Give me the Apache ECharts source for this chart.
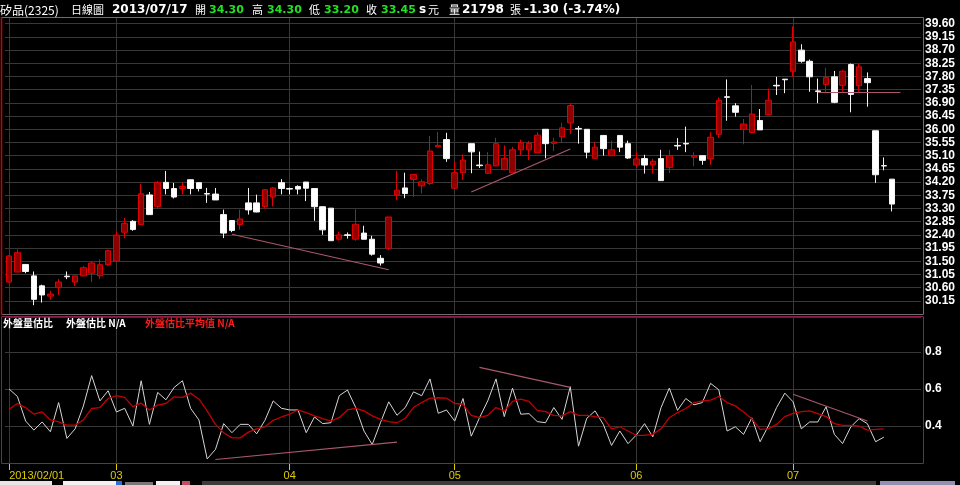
<!DOCTYPE html>
<html><head><meta charset="utf-8">
<script src="https://cdn.jsdelivr.net/npm/echarts@6/dist/echarts.min.js"></script>
<style>html,body{margin:0;padding:0;background:#000;}#c{width:960px;height:485px;}</style>
</head><body><div id="c"></div>
<script>
// trading days (MM/DD), 2013
const dates = [
'02/01','02/04','02/05','02/06','02/07','02/18','02/19','02/20','02/21','02/22','02/25','02/26','02/27',
'03/01','03/04','03/05','03/06','03/07','03/08','03/11','03/12','03/13','03/14','03/15','03/18','03/19','03/20','03/21','03/22','03/25','03/26','03/27','03/28','03/29',
'04/01','04/02','04/03','04/08','04/09','04/10','04/11','04/12','04/15','04/16','04/17','04/18','04/19','04/22','04/23','04/24','04/25','04/26','04/29','04/30',
'05/02','05/03','05/06','05/07','05/08','05/09','05/10','05/13','05/14','05/15','05/16','05/17','05/20','05/21','05/22','05/23','05/24','05/27','05/28','05/29','05/30','05/31',
'06/03','06/04','06/05','06/06','06/07','06/10','06/11','06/13','06/14','06/17','06/18','06/19','06/20','06/21','06/24','06/25','06/26','06/27','06/28',
'07/01','07/02','07/03','07/04','07/05','07/08','07/09','07/10','07/11','07/12','07/15','07/16','07/17'
];
const padSlots = [' ', '  ', '   '];

const opens = [
30.79,31.13,31.39,31.00,30.66,30.31,30.60,30.99,30.79,31.00,
31.09,31.00,31.38,31.50,32.49,32.86,32.75,33.76,33.37,34.19,
33.98,33.98,34.28,34.18,33.81,33.79,33.09,32.89,32.75,33.49,
33.49,33.37,33.69,34.18,33.98,34.05,34.20,33.98,33.36,33.31,
32.25,32.40,32.25,32.46,32.25,31.60,31.94,33.76,34.00,34.29,
34.07,34.15,35.40,35.65,33.99,34.52,35.51,34.78,34.50,34.75,
34.63,34.52,35.30,35.30,35.20,36.00,35.52,35.74,36.22,36.03,
36.00,35.01,35.79,35.10,35.79,35.51,34.78,35.00,34.79,35.00,
34.70,35.45,35.52,35.05,35.10,34.99,35.83,37.11,36.80,36.00,
35.89,36.30,36.49,37.50,37.71,37.98,38.70,38.32,37.31,37.53,
37.79,37.50,38.21,37.49,37.73,35.95,34.76,34.30];
const closes = [
31.68,31.79,31.15,30.20,30.35,30.38,30.79,30.97,31.00,31.28,
31.44,31.38,31.86,32.39,32.79,32.58,33.80,33.09,34.19,33.98,
33.69,34.05,33.98,33.98,33.79,33.59,32.46,32.55,32.94,33.25,
33.18,33.94,34.00,33.98,33.96,33.96,33.99,33.36,32.57,32.20,
32.40,32.38,32.76,32.25,31.74,31.44,33.01,33.92,33.81,34.46,
34.21,35.26,35.45,35.00,34.52,34.95,35.23,34.76,34.79,35.51,
35.00,35.30,35.54,35.52,35.80,35.51,35.57,36.05,36.81,36.01,
35.22,35.39,35.34,35.30,35.39,35.02,34.99,34.78,34.91,34.25,
35.10,35.43,35.50,35.10,34.94,35.73,36.99,37.09,36.58,36.18,
36.52,35.98,36.99,37.48,37.69,38.98,38.32,37.79,37.29,37.77,
36.92,37.98,37.19,38.13,37.59,34.45,34.75,33.45];
const lows = [
30.77,31.13,31.09,30.00,30.09,30.18,30.35,30.89,30.65,30.99,
30.79,30.89,31.34,31.48,32.28,32.54,32.74,33.08,33.29,33.78,
33.64,33.78,33.78,33.88,33.49,33.59,32.29,32.49,32.58,33.09,
33.17,33.29,33.37,33.78,33.78,33.78,33.55,32.88,32.40,32.20,
32.20,32.27,32.20,32.25,31.69,31.35,31.88,33.58,33.65,33.69,
33.81,34.10,35.40,34.89,33.99,34.27,34.50,34.68,34.50,34.75,
34.60,34.52,35.12,34.95,35.20,35.01,35.26,35.54,35.85,35.51,
35.01,35.01,35.10,35.10,35.22,34.99,34.68,34.49,34.49,34.25,
34.51,35.30,35.22,34.74,34.79,34.79,35.70,36.29,36.43,35.49,
35.89,35.98,36.49,37.17,37.23,37.79,38.27,37.28,36.89,37.28,
36.89,37.28,36.58,37.28,36.77,34.17,34.60,33.20];
const highs = [
31.70,31.90,31.39,31.15,30.70,30.49,30.89,31.15,31.00,31.34,
31.51,31.56,31.90,32.50,32.98,32.90,34.14,33.86,34.24,34.58,
34.17,34.19,34.28,34.18,34.00,34.00,33.26,32.89,33.26,34.00,
33.77,33.96,34.03,34.30,34.01,34.09,34.20,33.98,33.36,33.31,
32.51,32.48,33.27,32.71,32.37,31.71,33.01,34.58,34.52,34.46,
34.29,35.77,35.91,35.88,34.92,35.14,35.51,35.24,35.22,35.71,
35.45,35.40,35.65,35.60,35.90,36.00,35.71,36.22,36.90,36.11,
36.00,35.56,35.79,35.61,35.79,35.61,35.22,35.13,34.99,35.30,
35.30,35.70,36.09,35.22,35.10,35.90,37.09,37.70,36.89,36.35,
37.51,36.69,37.39,37.79,37.71,39.51,38.90,38.38,37.73,38.10,
37.99,38.02,38.24,38.24,37.94,35.95,35.04,34.30];

// 外盤估比 and its moving average
const ratio = [
0.600,0.560,0.427,0.378,0.422,0.369,0.527,0.333,0.385,0.509,
0.673,0.536,0.591,0.476,0.496,0.400,0.645,0.409,0.582,0.542,
0.609,0.645,0.495,0.433,0.222,0.273,0.413,0.364,0.409,0.409,
0.358,0.431,0.536,0.496,0.487,0.487,0.364,0.449,0.413,0.418,
0.564,0.595,0.500,0.373,0.300,0.418,0.531,0.458,0.500,0.585,
0.564,0.655,0.469,0.487,0.427,0.549,0.345,0.445,0.536,0.655,
0.451,0.605,0.464,0.467,0.424,0.418,0.500,0.436,0.613,0.291,
0.442,0.482,0.409,0.295,0.373,0.305,0.351,0.413,0.342,0.500,
0.605,0.485,0.549,0.515,0.527,0.631,0.596,0.373,0.396,0.355,
0.445,0.315,0.400,0.500,0.578,0.531,0.385,0.422,0.422,0.504,
0.355,0.305,0.396,0.440,0.413,0.315,0.340];
const ratioAvg = [
0.491,0.522,0.500,0.464,0.476,0.433,0.422,0.405,0.405,0.433,
0.495,0.500,0.549,0.564,0.555,0.505,0.524,0.487,0.513,0.522,
0.558,0.555,0.578,0.545,0.482,0.409,0.364,0.336,0.336,0.367,
0.385,0.396,0.431,0.449,0.464,0.487,0.473,0.455,0.440,0.427,
0.445,0.487,0.496,0.482,0.455,0.436,0.424,0.418,0.442,0.500,
0.527,0.551,0.553,0.551,0.522,0.518,0.458,0.445,0.458,0.500,
0.482,0.533,0.545,0.533,0.485,0.478,0.458,0.455,0.478,0.458,
0.458,0.451,0.445,0.385,0.396,0.373,0.349,0.349,0.355,0.385,
0.445,0.473,0.495,0.527,0.536,0.540,0.560,0.527,0.509,0.476,
0.440,0.382,0.385,0.409,0.451,0.469,0.478,0.482,0.467,0.451,
0.413,0.404,0.404,0.400,0.378,0.382,0.385];

// hand-drawn trend lines: [categoryIndex, value] pairs
const priceTrends = [
  [[27, 32.42], [46, 31.21]],
  [[56, 33.86], [68.1, 35.33]],
  [[98.2, 37.26], [108.4, 37.26]]
];
const ratioTrends = [
  [[25, 0.219], [47, 0.313]],
  [[57, 0.717], [68.1, 0.609]],
  [[95.1, 0.572], [104, 0.427]]
];

const header = {
  name: '矽品(2325)', view: '日線圖', date: '2013/07/17',
  open: '34.30', high: '34.30', low: '33.20', close: '33.45',
  unit: '元', volume: '21798', change: '-1.30 (-3.74%)'
};
const legendLabels = ['外盤量估比', '外盤估比 N/A', '外盤估比平均值 N/A'];

const cats = dates.concat(padSlots);
const isMonthStart = i => i < dates.length && (i === 0 || dates[i].slice(0, 2) !== dates[i - 1].slice(0, 2));
const monthStarts = dates.map((d, i) => i).filter(isMonthStart);

const YEL = '#dccc00';
const GRID = '#383838';
const TREND = '#a8586a';
const numFont = '"Liberation Sans", Arial, sans-serif';
const cjk = '"Noto Sans CJK TC", "Noto Sans CJK SC", sans-serif';

const candleData = opens.map((o, i) => [o, closes[i], lows[i], highs[i]]);
const trendLine = t => [{ coord: t[0] }, { coord: t[1] }];

const chart = echarts.init(document.getElementById('c'), null, { renderer: 'canvas' });

const hdr = [];
function ht(text, x, color, font) {
  hdr.push({ type: 'text', x: x, y: 10, z: 50, silent: true,
    style: { text: text, fill: color, font: font, verticalAlign: 'middle', align: 'left' } });
}
const HB = 'bold 12px "DejaVu Sans", sans-serif';
const HS = 'bold 11px "DejaVu Sans", sans-serif';
const HC = '11px ' + cjk;
ht(header.name, 0, '#ffffff', '12px ' + cjk);
ht(header.view, 71, '#ffffff', HC);
ht(header.date, 112, '#ffffff', HB);
ht('開', 195, '#ffffff', HC); ht(header.open, 209, '#22e022', HS);
ht('高', 252, '#ffffff', HC); ht(header.high, 267, '#22e022', HS);
ht('低', 309, '#ffffff', HC); ht(header.low, 324, '#22e022', HS);
ht('收', 366, '#ffffff', HC); ht(header.close, 381, '#22e022', HS);
ht('s', 419, '#ffffff', HB); ht(header.unit, 428, '#ffffff', HC);
ht('量', 449, '#ffffff', HC); ht(header.volume, 462, '#ffffff', HB);
ht('張', 510, '#ffffff', HC);
ht(header.change, 524, '#ffffff', HB);

const lg = [
  { type: 'text', x: 3, y: 323, z: 50, silent: true, style: { text: legendLabels[0], fill: '#ffffff', font: 'bold 10px ' + cjk, verticalAlign: 'middle' } },
  { type: 'text', x: 66, y: 323, z: 50, silent: true, style: { text: legendLabels[1], fill: '#ffffff', font: 'bold 10px ' + cjk, verticalAlign: 'middle' } },
  { type: 'text', x: 145, y: 323, z: 50, silent: true, style: { text: legendLabels[2], fill: '#ff1a1a', font: 'bold 10px ' + cjk, verticalAlign: 'middle' } }
];

const frames = [
  { type: 'rect', z: 40, silent: true, shape: { x: 1.5, y: 17.5, width: 922, height: 297 }, style: { fill: 'none', stroke: '#6e6e6e', lineWidth: 1 } },
  { type: 'line', z: 41, silent: true, shape: { x1: 1.5, y1: 17, x2: 1.5, y2: 315 }, style: { stroke: '#d00000', lineWidth: 1.5 } },
  { type: 'rect', z: 40, silent: true, shape: { x: 1.5, y: 316.5, width: 922, height: 147 }, style: { fill: 'none', stroke: '#8e1f4c', lineWidth: 1 } },
  // bottom tool strip
  { type: 'rect', z: 40, silent: true, shape: { x: 0, y: 481, width: 52, height: 4 }, style: { fill: '#e6e6e6' } },
  { type: 'rect', z: 40, silent: true, shape: { x: 63, y: 481, width: 53, height: 4 }, style: { fill: '#f2f2f2' } },
  { type: 'rect', z: 40, silent: true, shape: { x: 116, y: 481, width: 6, height: 4 }, style: { fill: '#2a6fd6' } },
  { type: 'rect', z: 40, silent: true, shape: { x: 125, y: 482, width: 28, height: 3 }, style: { fill: '#777777' } },
  { type: 'rect', z: 40, silent: true, shape: { x: 156, y: 481, width: 24, height: 4 }, style: { fill: '#f2f2f2' } },
  { type: 'rect', z: 40, silent: true, shape: { x: 182, y: 481, width: 8, height: 4 }, style: { fill: '#c05060' } },
  { type: 'rect', z: 40, silent: true, shape: { x: 202, y: 481, width: 674, height: 4 }, style: { fill: '#3c3c3c' } },
  { type: 'rect', z: 40, silent: true, shape: { x: 880, y: 481, width: 75, height: 4 }, style: { fill: '#9090b0' } }
];

const option = {
  backgroundColor: '#000000',
  animation: false,
  grid: [
    { left: 5, right: 39, top: 17, height: 297 },
    { left: 5, right: 39, top: 317, height: 146 }
  ],
  xAxis: [
    { type: 'category', gridIndex: 0, data: cats, boundaryGap: true,
      axisLine: { show: false }, axisTick: { show: false }, axisLabel: { show: false }, splitLine: { show: false } },
    { type: 'category', gridIndex: 1, data: cats, boundaryGap: true,
      axisLine: { show: false },
      axisTick: { show: true, alignWithLabel: true, length: 7, interval: (i) => isMonthStart(i), lineStyle: { color: YEL } },
      axisLabel: { interval: (i) => isMonthStart(i), color: YEL, fontSize: 11, margin: 7,
        fontFamily: numFont, alignMinLabel: 'left',
        formatter: (v, i) => i === 0 ? '2013/' + v : v.slice(0, 2) },
      splitLine: { show: false } }
  ],
  yAxis: [
    { type: 'value', gridIndex: 0, position: 'right', min: 29.70, max: 39.83, interval: 0.45,
      axisLine: { show: false }, axisTick: { show: false },
      axisLabel: { color: '#ffffff', fontWeight: 'bold', fontFamily: numFont, fontSize: 12, margin: 4,
        showMinLabel: false, showMaxLabel: false, formatter: v => v.toFixed(2) },
      splitLine: { lineStyle: { color: GRID, width: 1 } } },
    { type: 'value', gridIndex: 1, position: 'right', min: 0.2, max: 0.99, interval: 0.2,
      axisLine: { show: false }, axisTick: { show: false },
      axisLabel: { color: '#ffffff', fontWeight: 'bold', fontFamily: numFont, fontSize: 12, margin: 4,
        showMinLabel: false, showMaxLabel: false, formatter: v => v.toFixed(1) },
      splitLine: { lineStyle: { color: GRID, width: 1 } } }
  ],
  series: [
    { type: 'line', xAxisIndex: 0, yAxisIndex: 0, data: [], z: 1, silent: true,
      markLine: { silent: true, z: 1, symbol: ['none', 'none'], label: { show: false },
        lineStyle: { color: GRID, type: 'solid', width: 1 },
        data: monthStarts.map(i => ({ xAxis: i })) } },
    { type: 'line', xAxisIndex: 1, yAxisIndex: 1, data: [], z: 1, silent: true,
      markLine: { silent: true, z: 1, symbol: ['none', 'none'], label: { show: false },
        lineStyle: { color: GRID, type: 'solid', width: 1 },
        data: monthStarts.map(i => ({ xAxis: i })) } },
    { type: 'candlestick', xAxisIndex: 0, yAxisIndex: 0, data: candleData, z: 3, barWidth: 6,
      itemStyle: { color: '#8e0000', color0: '#ffffff', borderColor: '#e00000', borderColor0: '#f4f4f4', borderWidth: 1 },
      markLine: { silent: true, symbol: ['none', 'none'], label: { show: false },
        lineStyle: { color: TREND, type: 'solid', width: 1.2 },
        data: priceTrends.map(trendLine) } },
    { type: 'line', name: '外盤估比', xAxisIndex: 1, yAxisIndex: 1, data: ratio, showSymbol: false, z: 3,
      lineStyle: { color: '#d6d6d6', width: 1 },
      markLine: { silent: true, symbol: ['none', 'none'], label: { show: false },
        lineStyle: { color: TREND, type: 'solid', width: 1.2 },
        data: ratioTrends.map(trendLine) } },
    { type: 'line', name: '外盤估比平均值', xAxisIndex: 1, yAxisIndex: 1, data: ratioAvg, showSymbol: false, z: 4,
      lineStyle: { color: '#c40000', width: 1.3 } }
  ],
  graphic: hdr.concat(lg, frames)
};
chart.setOption(option);
</script>
</body></html>
